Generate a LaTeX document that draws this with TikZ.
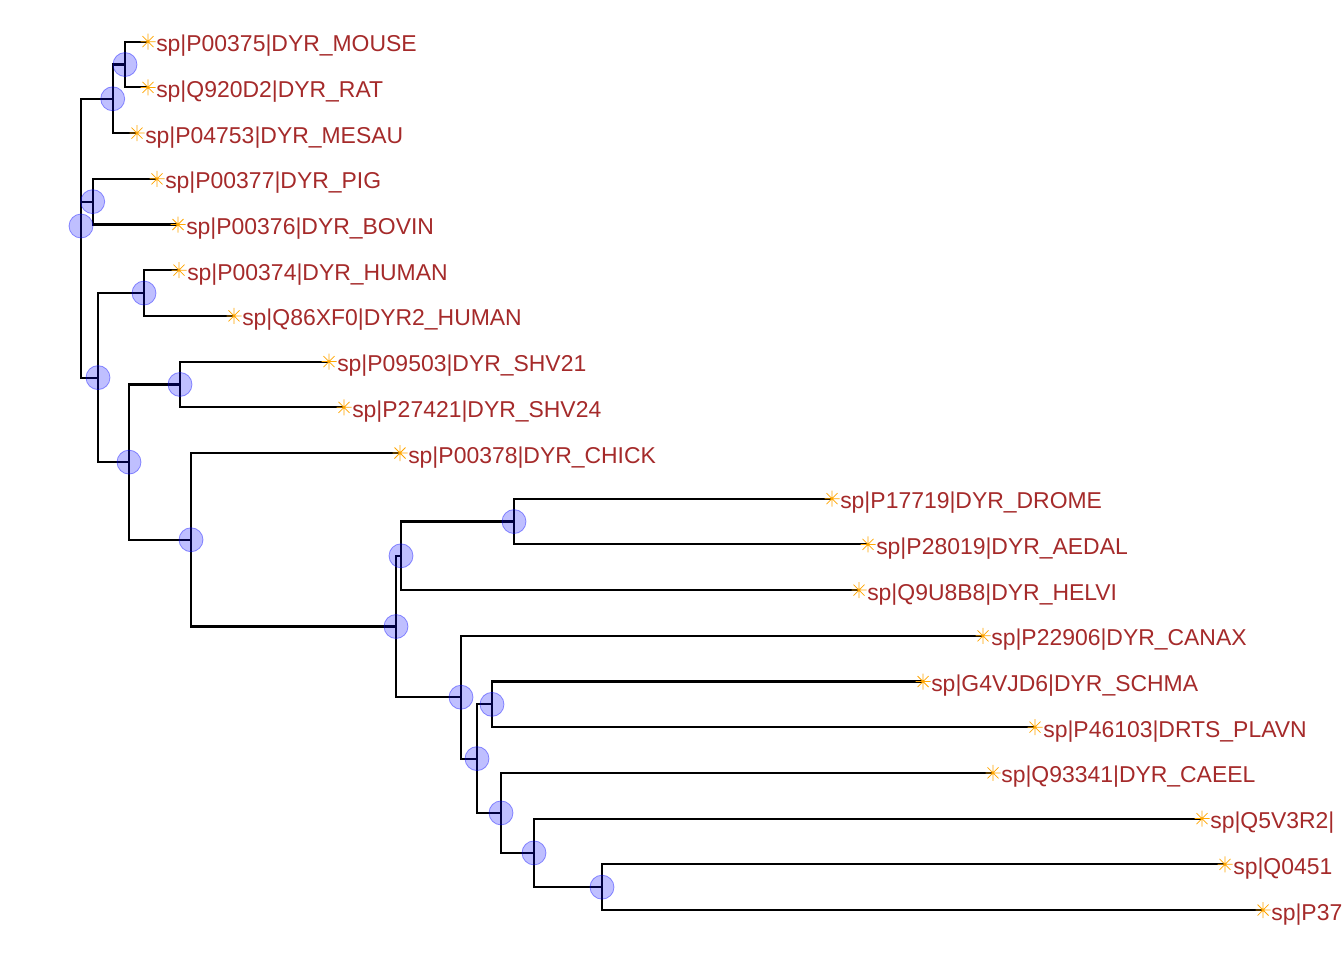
\documentclass[tikz,border=0pt]{standalone}
\usepackage{fontspec}
\setmainfont{Liberation Sans}
\definecolor{labred}{RGB}{165,42,42}
\definecolor{starorange}{RGB}{255,165,0}
\definecolor{nodeblue}{RGB}{0,0,255}
\begin{document}
\begin{tikzpicture}[x=0.75pt,y=-0.75pt,
  edge/.style={draw=black,line width=1.6pt,line join=miter,line cap=rect},
  nodedot/.style={circle,minimum size=18pt,inner sep=0pt,fill=nodeblue,fill opacity=0.25,draw=nodeblue,draw opacity=0.4,line width=0.6pt},
  starline/.style={draw=starorange,line width=0.55pt},
  lab/.style={anchor=base west,inner sep=0pt,xshift=6pt,yshift=-7.5pt,text=labred,font=\fontsize{17.2}{20}\selectfont},
  pics/tstar/.style={code={\draw[starline] (-7.5,0)--(7.5,0) (0,-8)--(0,8) (-5.5,-5.5)--(5.5,5.5) (-5.5,5.5)--(5.5,-5.5);}}
]
\useasboundingbox (0,0) rectangle (1344,960);
\clip (0,0) rectangle (1344,960);
\fill[white] (0,0) rectangle (1344,960);
% tips
\coordinate (t1) at (148,41.7);
\coordinate (t2) at (148,87.4);
\coordinate (t3) at (137,133.1);
\coordinate (t4) at (157,178.8);
\coordinate (t5) at (178,224.5);
\coordinate (t6) at (179,270.2);
\coordinate (t7) at (234,315.9);
\coordinate (t8) at (329,361.6);
\coordinate (t9) at (344,407.3);
\coordinate (t10) at (400,453.0);
\coordinate (t11) at (832,498.7);
\coordinate (t12) at (868,544.4);
\coordinate (t13) at (859,590.1);
\coordinate (t14) at (983,635.8);
\coordinate (t15) at (923,681.5);
\coordinate (t16) at (1035,727.2);
\coordinate (t17) at (993,772.9);
\coordinate (t18) at (1202,818.6);
\coordinate (t19) at (1225,864.3);
\coordinate (t20) at (1263,910.0);
% internal nodes
\coordinate (nMR) at (125,64.55);
\coordinate (nMMR) at (112.7,98.8);
\coordinate (nPB) at (92.7,201.65);
\coordinate (nHU) at (144,293.05);
\coordinate (nSHV) at (180,384.45);
\coordinate (nDA) at (514,521.55);
\coordinate (nDAH) at (401,555.8);
\coordinate (nSP) at (492,704.35);
\coordinate (nPQ) at (602,887.15);
\coordinate (nQ) at (534,852.9);
\coordinate (nC) at (501,812.9);
\coordinate (nSPC) at (477,758.6);
\coordinate (nCA) at (461,697.2);
\coordinate (nIN) at (396,626.5);
\coordinate (nCH) at (191,539.75);
\coordinate (nSC) at (129,462.1);
\coordinate (nBIG) at (98,377.6);
\coordinate (root) at (81,226.0);
% edges
\draw[edge] (nMR) |- (t1); \draw[edge] (nMR) |- (t2);
\draw[edge] (nMMR) |- (nMR); \draw[edge] (nMMR) |- (t3);
\draw[edge] (nPB) |- (t4); \draw[edge] (nPB) |- (t5);
\draw[edge] (nHU) |- (t6); \draw[edge] (nHU) |- (t7);
\draw[edge] (nSHV) |- (t8); \draw[edge] (nSHV) |- (t9);
\draw[edge] (nDA) |- (t11); \draw[edge] (nDA) |- (t12);
\draw[edge] (nDAH) |- (nDA); \draw[edge] (nDAH) |- (t13);
\draw[edge] (nSP) |- (t15); \draw[edge] (nSP) |- (t16);
\draw[edge] (nPQ) |- (t19); \draw[edge] (nPQ) |- (t20);
\draw[edge] (nQ) |- (t18); \draw[edge] (nQ) |- (nPQ);
\draw[edge] (nC) |- (t17); \draw[edge] (nC) |- (nQ);
\draw[edge] (nSPC) |- (nSP); \draw[edge] (nSPC) |- (nC);
\draw[edge] (nCA) |- (t14); \draw[edge] (nCA) |- (nSPC);
\draw[edge] (nIN) |- (nDAH); \draw[edge] (nIN) |- (nCA);
\draw[edge] (nCH) |- (t10); \draw[edge] (nCH) |- (nIN);
\draw[edge] (nSC) |- (nSHV); \draw[edge] (nSC) |- (nCH);
\draw[edge] (nBIG) |- (nHU); \draw[edge] (nBIG) |- (nSC);
\draw[edge] (root) |- (nMMR); \draw[edge] (root) |- (nPB); \draw[edge] (root) |- (nBIG);
% node circles
\foreach \n in {nMR,nMMR,nPB,nHU,nSHV,nDA,nDAH,nSP,nPQ,nQ,nC,nSPC,nCA,nIN,nCH,nSC,nBIG,root}
  \node[nodedot] (c-\n) at (\n) {};
% tip stars
\foreach \t in {1,...,20} \pic at (t\t) {tstar};
% labels
\node[lab] (l1) at (t1) {sp|P00375|DYR\_MOUSE};
\node[lab] (l2) at (t2) {sp|Q920D2|DYR\_RAT};
\node[lab] (l3) at (t3) {sp|P04753|DYR\_MESAU};
\node[lab] (l4) at (t4) {sp|P00377|DYR\_PIG};
\node[lab] (l5) at (t5) {sp|P00376|DYR\_BOVIN};
\node[lab] (l6) at (t6) {sp|P00374|DYR\_HUMAN};
\node[lab] (l7) at (t7) {sp|Q86XF0|DYR2\_HUMAN};
\node[lab] (l8) at (t8) {sp|P09503|DYR\_SHV21};
\node[lab] (l9) at (t9) {sp|P27421|DYR\_SHV24};
\node[lab] (l10) at (t10) {sp|P00378|DYR\_CHICK};
\node[lab] (l11) at (t11) {sp|P17719|DYR\_DROME};
\node[lab] (l12) at (t12) {sp|P28019|DYR\_AEDAL};
\node[lab] (l13) at (t13) {sp|Q9U8B8|DYR\_HELVI};
\node[lab] (l14) at (t14) {sp|P22906|DYR\_CANAX};
\node[lab] (l15) at (t15) {sp|G4VJD6|DYR\_SCHMA};
\node[lab] (l16) at (t16) {sp|P46103|DRTS\_PLAVN};
\node[lab] (l17) at (t17) {sp|Q93341|DYR\_CAEEL};
\node[lab] (l18) at (t18) {sp|Q5V3R2|};
\node[lab] (l19) at (t19) {sp|Q0451};
\node[lab] (l20) at (t20) {sp|P37};
\end{tikzpicture}
\end{document}
